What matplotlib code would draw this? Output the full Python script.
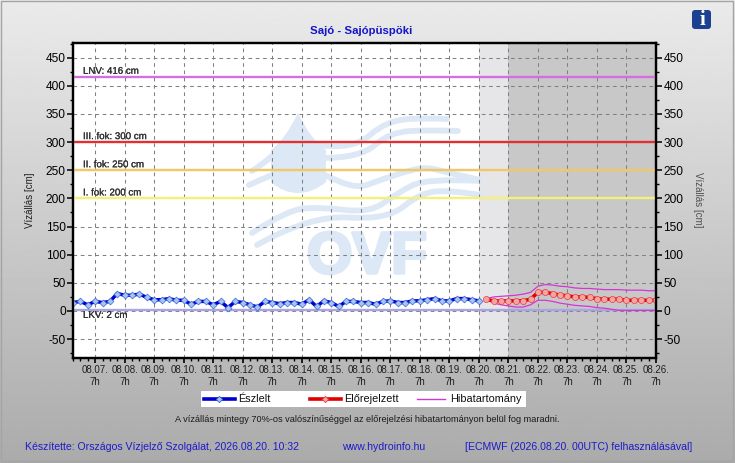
import numpy as np
import pandas as pd
import matplotlib
matplotlib.use("Agg")
import matplotlib.pyplot as plt
import matplotlib.dates as mdates
import matplotlib.patheffects as pe
from matplotlib.patches import Rectangle, FancyBboxPatch, PathPatch
from matplotlib.path import Path

plt.rcParams['font.family'] = ['Liberation Sans', 'DejaVu Sans']
plt.rcParams['axes.unicode_minus'] = False

W, H = 735, 463

# observed water level every 6 hours, cm
observed = [15, 17, 11, 17, 15, 17, 31, 28, 28, 30, 24, 20, 20, 22, 19, 19, 12, 17, 17, 11,
            17, 6, 17, 15, 11, 7, 17, 15, 13, 15, 15, 12, 20, 8, 18, 15, 8, 17, 17, 15,
            15, 12, 17, 18, 15, 15, 18, 18, 20, 22, 18, 18, 22, 22, 20, 18]
forecast = [21, 18, 18, 18, 18, 18, 21, 33, 33, 31, 28, 27, 25, 25, 24, 22, 21, 21, 21, 19,
            19, 19, 19, 19]
band_high = [22, 25, 26, 27, 28, 30, 33, 44, 47, 46, 44, 43, 41, 40, 40, 39, 38, 38, 38, 37,
             37, 37, 36, 36]
band_low = [20, 14, 11, 9, 7, 7, 11, 19, 19, 17, 14, 12, 10, 9, 8, 6, 5, 3, 1, 1, 1, 1, 1, 1]

levels = [416, 300, 250, 200, 2]
level_names = ['LNV: 416 cm', 'III. fok: 300 cm', 'II. fok: 250 cm', 'I. fok: 200 cm', 'LKV: 2 cm']
level_colors = ['#d46fe0', '#e03030', '#f2c766', '#f5f07a', '#a9a4e2']

obs_time = pd.date_range('2026-08-06 13:00', periods=len(observed), freq='6h')
fc_time = pd.date_range('2026-08-20 13:00', periods=len(forecast), freq='6h')

BLUE = '#0000d2'
RED = '#e00000'
MAGENTA = '#d535d5'

# logo shapes in picture pixels, only decoration behind the plot
logo_waves = [
    [(252, 171), (262, 165), (273, 155)],
    [(249, 185), (260, 180), (272, 175)],
    [(320, 145), (353, 150), (387, 120), (430, 118), (447, 119)],
    [(323, 158), (360, 158), (390, 132), (430, 130), (458, 131)],
    [(323, 174), (353, 190), (380, 180), (423, 166), (445, 172), (480, 180)],
    [(252, 233), (287, 210), (320, 207), (370, 213), (397, 193), (427, 178), (480, 181)],
    [(257, 245), (310, 215), (387, 220), (420, 193), (450, 190), (480, 195)],
]


def add_background(fig):
    """Full size axes in pixel units: gradient, border and info icon."""
    bg = fig.add_axes([0, 0, 1, 1], zorder=0)
    bg.set_xlim(0, W)
    bg.set_ylim(H, 0)
    bg.axis('off')
    gradient = np.linspace(0.92, 0.67, 200).reshape(-1, 1)
    bg.imshow(gradient, extent=(0, W, H, 0), aspect='auto', cmap='gray', vmin=0, vmax=1)
    bg.add_patch(Rectangle((1, 1), W - 3, H - 3, fill=False, ec='#a4a4a4', lw=1))

    bg.add_patch(FancyBboxPatch((694, 12), 15, 15, boxstyle='round,pad=2,rounding_size=3',
                                fc='#1d4191', ec='none'))
    bg.text(702, 20, 'i', color='white', fontsize=15, fontweight='bold', ha='center', va='center',
            family='Liberation Serif')
    return bg


def add_logo(ax, bg):
    """Pale OVF water drop logo inside the plot area."""
    color = '#dce8f5'
    drop = Path([(298, 113), (285, 140), (271, 150), (271, 167), (271, 182), (283, 193), (298, 193),
                 (313, 193), (326, 182), (326, 167), (326, 150), (311, 140), (298, 113)],
                [Path.MOVETO] + [Path.CURVE3] * 12)
    ax.add_patch(PathPatch(drop, fc=color, ec='none', transform=bg.transData, zorder=1))
    for wave in logo_waves:
        pts = np.array(wave, dtype=float)
        mids = (pts[1:-1] + pts[2:]) / 2
        verts = [pts[0], pts[1]]
        for p, m in zip(pts[2:-1], mids[:-1]):
            verts += [m, p]
        verts += [pts[-1]]
        codes = [Path.MOVETO] + [Path.CURVE3] * (len(verts) - 1)
        ax.add_patch(PathPatch(Path(verts, codes), fc='none', ec=color, lw=4.2,
                               capstyle='round', transform=bg.transData, zorder=1))
    ax.text(367, 258, 'OVF', color=color, fontsize=42, fontweight='bold', ha='center', va='center',
            transform=bg.transData, zorder=1,
            path_effects=[pe.withStroke(linewidth=2.5, foreground=color)])


def add_legend(bg):
    """Legend row drawn at its pixel place on the background."""
    bg.add_patch(Rectangle((201, 391), 325, 15.5, fc='white', ec='none', zorder=3))
    keys = [(204, 235, 238, BLUE, 'Észlelt', '#a6c4f2', '#3b66d6'),
            (310, 341, 344, RED, 'Előrejelzett', '#f7a3a3', '#e84040'),
            (417, 445, 450, MAGENTA, 'Hibatartomány', None, None)]
    for x0, x1, text_x, color, label, fill, edge in keys:
        if fill:
            bg.plot([x0, x1], [398.5, 398.5], color=color, lw=2.6, zorder=4)
            bg.plot([(x0 + x1) / 2], [398.5], marker='D', ms=3.2, mfc=fill, mec=edge, mew=0.6, zorder=5)
        else:
            bg.plot([x0, x1], [398.5, 398.5], color=color, lw=1, zorder=4)
        bg.text(text_x, 398.5, label, fontsize=7.8, color='#101010', va='center', zorder=5)
    bg.set_xlim(0, W)
    bg.set_ylim(H, 0)


def plot_chart():
    fig = plt.figure(figsize=(W / 100, H / 100), dpi=100)
    bg = add_background(fig)

    ax = fig.add_axes([73 / W, 1 - 358 / H, (656 - 73) / W, (358 - 43) / H], zorder=2)
    ax.set_facecolor('white')
    ax.set_xlim(obs_time[0], pd.Timestamp('2026-08-26 07:00'))
    ax.set_ylim(-83.5, 476)

    # forecast periods
    ax.axvspan(pd.Timestamp('2026-08-20 07:00'), pd.Timestamp('2026-08-21 07:00'),
               color='#e6e6e8', lw=0, zorder=0.5)
    ax.axvspan(pd.Timestamp('2026-08-21 07:00'), pd.Timestamp('2026-08-26 07:00'),
               color='#c8c8c9', lw=0, zorder=0.5)
    add_logo(ax, bg)

    ax.grid(True, which='major', ls=(0, (3.5, 3.5)), color='#808080', lw=0.75, zorder=2)
    ax.set_axisbelow(False)

    for level, name, color in zip(levels, level_names, level_colors):
        ax.axhline(level, color=color, lw=1.7, zorder=3)
        offset = (10, -5) if level < 10 else (10, 6)
        ax.annotate(name, xy=(obs_time[0], level), xytext=offset, textcoords='offset pixels',
                    fontsize=7, color='#303030', va='center', zorder=6,
                    path_effects=[pe.withStroke(linewidth=0.15, foreground='#303030')])

    ax.plot(fc_time, band_high, color=MAGENTA, lw=0.9, zorder=4)
    ax.plot(fc_time, band_low, color=MAGENTA, lw=0.9, zorder=4)
    ax.plot(obs_time, observed, color=BLUE, lw=2.5, marker='D', ms=3.5,
            mfc='#a6c4f2', mec='#3b66d6', mew=0.5, zorder=5)
    ax.plot(fc_time, forecast, color=RED, lw=2.5, marker='o', ms=4.4,
            mfc='#f7a3a3', mec='#e84040', mew=0.5, zorder=5)

    ax.xaxis.set_major_locator(mdates.HourLocator(byhour=[7]))
    ax.xaxis.set_major_formatter(mdates.DateFormatter('%m.%d.\n7h'))
    ax.xaxis.set_minor_locator(mdates.HourLocator(byhour=[1, 7, 13, 19]))
    ax.set_yticks(np.arange(-50, 451, 50))
    ax.set_yticks(np.arange(-75, 476, 25), minor=True)

    ax.tick_params(axis='x', which='major', length=3.6, width=1.2, labelsize=7, pad=1.5,
                   labelcolor='#202020')
    ax.tick_params(axis='x', which='minor', length=2, width=1)
    ax.tick_params(axis='y', which='major', length=4.3, width=1.1, labelsize=8.6, pad=1)
    ax.tick_params(axis='y', which='minor', length=2.2, width=1)
    for spine in ax.spines.values():
        spine.set_linewidth(1.6)

    right = ax.twinx()
    right.set_ylim(ax.get_ylim())
    right.set_yticks(np.arange(-50, 451, 50))
    right.set_yticks(np.arange(-75, 476, 25), minor=True)
    right.tick_params(axis='y', which='major', length=4.3, width=1.1, labelsize=8.6, pad=1)
    right.tick_params(axis='y', which='minor', length=2.2, width=1)
    for spine in right.spines.values():
        spine.set_linewidth(1.6)

    bg.text(361, 31, 'Sajó - Sajópüspöki', color='#1414c8', fontsize=8.2, fontweight='bold',
            ha='center', va='center')
    bg.text(30, 200, 'Vízállás [cm]', rotation=90, fontsize=7, color='#202020', ha='center', va='center')
    bg.text(698, 200, 'Vízállás [cm]', rotation=270, fontsize=7, color='#505050', ha='center', va='center')

    add_legend(bg)

    bg.text(367, 419, 'A vízállás mintegy 70%-os valószínűséggel az előrejelzési hibatartományon belül fog maradni.',
            fontsize=6.6, color='#1a1a1a', ha='center', va='center')
    footer_color = '#1c1cc8'
    bg.text(25, 447, 'Készítette: Országos Vízjelző Szolgálat, 2026.08.20. 10:32', fontsize=7.6,
            color=footer_color, va='center')
    bg.text(342, 447, 'www.hydroinfo.hu', fontsize=7.6, color=footer_color, va='center')
    bg.text(465, 447, '[ECMWF (2026.08.20. 00UTC) felhasználásával]', fontsize=7.6,
            color=footer_color, va='center')

    fig.savefig('out.png', dpi=100)


plot_chart()
